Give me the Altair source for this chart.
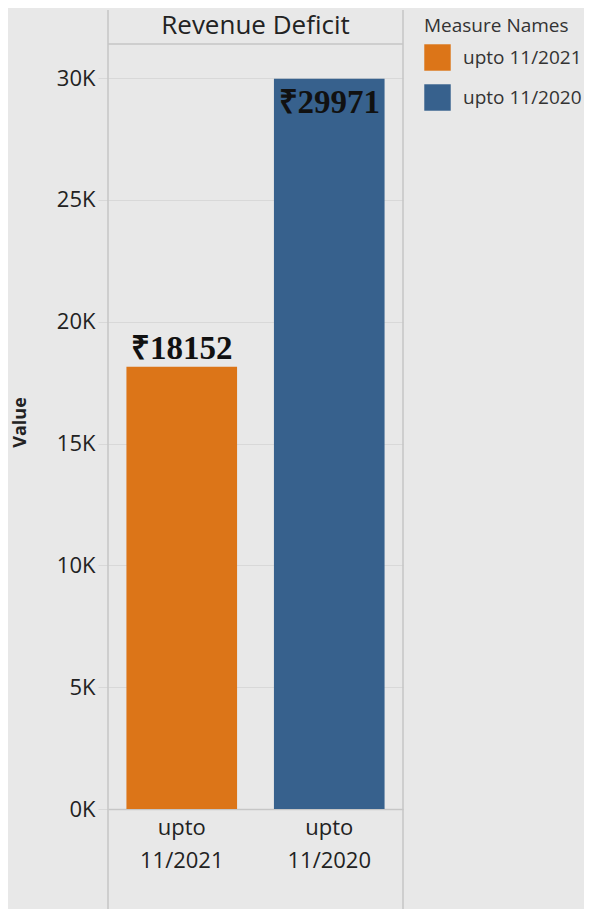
import altair as alt
import pandas as pd

measures = ["upto 11/2021", "upto 11/2020"]
values = [18152, 29971]
colors = ["#dc7518", "#37618d"]
header = "Revenue Deficit"

df = pd.DataFrame({"measure": measures, "value": values})
df["label"] = ["₹" + str(v) for v in values]

W, H = 295, 765
BG = "#e8e8e8"
LINE = "#c6c6c6"
FONT = "Open Sans"

x = alt.X("measure:N", sort=measures, title=None,
          scale=alt.Scale(paddingInner=0.25, paddingOuter=0.125),
          axis=alt.Axis(labelAngle=0, labelExpr="split(datum.label, ' ')",
                        labelFontSize=22, labelFont=FONT, labelColor="#222",
                        labelLineHeight=33, labelPadding=8, labelBaseline="top",
                        ticks=False, domainColor=LINE, domainWidth=1.5))
y = alt.Y("value:Q", title="Value",
          scale=alt.Scale(domain=[0, 31400], nice=False),
          axis=alt.Axis(values=[0, 5000, 10000, 15000, 20000, 25000, 30000],
                        labelExpr="format(datum.value/1000, 'd') + 'K'",
                        labelFontSize=22, labelFont=FONT, labelColor="#222",
                        labelPadding=3, tickSize=10, tickColor="#d8d8d8",
                        domain=False, gridColor="#d8d8d8",
                        titleFontSize=18, titleFont=FONT, titleFontWeight="bold",
                        titleColor="#222", titleX=-88, titleY=378,
                        titleAlign="center", titleBaseline="middle"))

color = alt.Color("measure:N", sort=measures, title="Measure Names",
                  scale=alt.Scale(domain=measures, range=colors),
                  legend=alt.Legend(orient="none", legendX=316, legendY=-27,
                                    symbolType="square", symbolSize=700,
                                    symbolStrokeWidth=0, symbolOpacity=1,
                                    titleFontSize=19, titleFont=FONT,
                                    titleFontWeight="normal", titleColor="#333",
                                    labelFontSize=19, labelFont=FONT,
                                    labelColor="#333", rowPadding=13,
                                    titlePadding=8, labelOffset=12))

base = alt.Chart(df)
bars = base.mark_bar(opacity=1).encode(x=x, y=y, color=color)

txt_kw = dict(font="Liberation Serif", fontWeight="bold", fontSize=33, color="#111")
lab_above = base.transform_filter("datum.value < 28000").mark_text(
    baseline="alphabetic", dy=-8, **txt_kw).encode(
    x=alt.X("measure:N", sort=measures), y="value:Q", text="label:N")
lab_inside = base.transform_filter("datum.value >= 28000").mark_text(
    baseline="top", dy=8, **txt_kw).encode(
    x=alt.X("measure:N", sort=measures), y="value:Q", text="label:N")

head_df = pd.DataFrame({"t": [header]})
head = alt.Chart(head_df).mark_text(font=FONT, fontSize=26, color="#222",
                                    baseline="middle", clip=False).encode(
    text="t:N", x=alt.value(W / 2), y=alt.value(-18))

top_rule = alt.Chart(head_df).mark_rule(color=LINE, strokeWidth=1.5).encode(
    x=alt.value(0), x2=alt.value(W), y=alt.value(0))
left_rule = alt.Chart(head_df).mark_rule(color=LINE, strokeWidth=1.5, clip=False).encode(
    x=alt.value(0), y=alt.value(-34), y2=alt.value(H + 110))
right_rule = alt.Chart(head_df).mark_rule(color=LINE, strokeWidth=1.5, clip=False).encode(
    x=alt.value(W), y=alt.value(-34), y2=alt.value(H + 110))

chart = alt.layer(bars, lab_above, lab_inside, head, top_rule, left_rule, right_rule).properties(
    width=W, height=H,
    autosize=alt.AutoSizeParams(type="none"),
    padding={"left": 100, "top": 36, "right": 181, "bottom": 100},
).configure(background=BG).configure_view(stroke=None, fill=BG)

chart.save("out.html", embed_options={"renderer": "svg", "actions": False})
